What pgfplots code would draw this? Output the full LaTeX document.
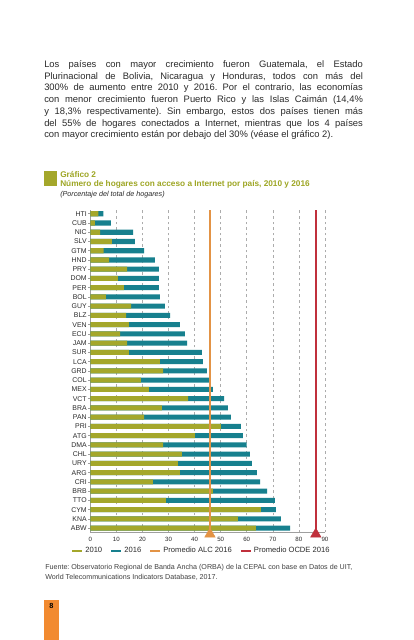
\documentclass[border=0pt]{standalone}
\usepackage{pgfplots}
\pgfplotsset{compat=1.18}
\usepackage{pgfplotstable}
\usepackage{fontspec}
\setmainfont{Liberation Sans}
\frenchspacing
\definecolor{cA}{HTML}{A4A72B}
\definecolor{cB}{HTML}{17808E}
\definecolor{cALC}{HTML}{E39345}
\definecolor{cOCDE}{HTML}{C0303C}
\definecolor{ctitle}{HTML}{9EA624}
\definecolor{cpage}{HTML}{F28A30}
\definecolor{ctext}{HTML}{2A2A2A}
\pgfplotstableread{
i  y2010 y2016
0  63.5  76.6
1  56.6  73.1
2  65.4  71.2
3  29.0  70.8
4  47.0  67.8
5  24.0  65.1
6  34.4  63.9
7  33.6  62.0
8  35.1  61.2
9  27.9  60.0
10 40.1  58.5
11 50.1  57.8
12 20.6  53.9
13 27.5  52.8
14 37.5  51.3
15 22.5  47.0
16 19.4  45.5
17 27.9  44.7
18 26.7  43.2
19 14.8  42.8
20 14.1  37.1
21 11.4  36.3
22 14.8  34.4
23 13.7  30.6
24 15.7  28.6
25 6.0   26.7
26 12.9  26.3
27 10.6  26.3
28 14.1  26.3
29 7.2   24.8
30 5.1   20.6
31 8.3   17.1
32 3.8   16.4
33 1.8   7.9
34 3.1   5.0
}\datatable
\begin{document}
\begin{tikzpicture}[x=0.75pt,y=0.75pt]
\fill[white] (0,0) rectangle (414,640);
\path[use as bounding box] (0,0) rectangle (414,640);
% paragraph
\begin{scope}[every node/.style={anchor=base west, inner sep=0pt, text=ctext, font=\fontsize{7.05}{8}\selectfont}]
\node at (44,{640-67.5}) {\makebox[239pt][s]{Los países con mayor crecimiento fueron Guatemala, el Estado}};
\node at (44,{640-79.2}) {\makebox[239pt][s]{Plurinacional de Bolivia, Nicaragua y Honduras, todos con más del}};
\node at (44,{640-91.0}) {\makebox[239pt][s]{300\% de aumento entre 2010 y 2016. Por el contrario, las economías}};
\node at (44,{640-102.7}) {\makebox[239pt][s]{con menor crecimiento fueron Puerto Rico y las Islas Caimán (14,4\%}};
\node at (44,{640-114.4}) {\makebox[239pt][s]{y 18,3\% respectivamente). Sin embargo, estos dos países tienen más}};
\node at (44,{640-126.1}) {\makebox[239pt][s]{del 55\% de hogares conectados a Internet, mientras que los 4 países}};
\node at (44,{640-137.8}) {con mayor crecimiento están por debajo del 30\% (véase el gráfico 2).};
\end{scope}
% title block
\fill[cA] (44,{640-186}) rectangle (57,{640-171});
\node[anchor=base west, inner sep=0pt, text=ctitle, font=\fontsize{6.2}{7}\selectfont\bfseries] at (60,{640-178}) {Gráfico 2};
\node[anchor=base west, inner sep=0pt, text=ctitle, font=\fontsize{6.2}{7}\selectfont\bfseries] at (60,{640-186.5}) {Número de hogares con acceso a Internet por país, 2010 y 2016};
\node[anchor=base west, inner sep=0pt, text=ctext, font=\fontsize{5.4}{6}\selectfont\itshape] at (60,{640-196.5}) {(Porcentaje del total de hogares)};
% source
\node[anchor=base west, inner sep=0pt, text=ctext!90, font=\fontsize{5.35}{6}\selectfont] at (45,{640-570}) {Fuente: Observatorio Regional de Banda Ancha (ORBA) de la CEPAL con base en Datos de UIT,};
\node[anchor=base west, inner sep=0pt, text=ctext!90, font=\fontsize{5.35}{6}\selectfont] at (45,{640-579.5}) {World Telecommunications Indicators Database, 2017.};
% page number
\fill[cpage] (44,0) rectangle (59,40);
\node[inner sep=0pt, font=\fontsize{5.5}{6}\selectfont\bfseries] at (51.5,{640-606}) {8};
\begin{axis}[
  at={(67.725pt,80.775pt)}, anchor=south west,
  scale only axis, width=176.0pt, height=241.7pt,
  xmin=0, xmax=90, ymin=-0.45, ymax=34.4,
  clip=false,
  axis x line*=bottom, axis y line*=left,
  axis line style={-, draw=gray!75, line width=0.5pt},
  xtick={0,10,...,90},
  x tick style={draw=none},
  x tick label style={font=\fontsize{4.6}{5}\selectfont, text=ctext, yshift=1pt},
  /pgf/number format/assume math mode=true,
  xmajorgrids,
  major x grid style={gray!65, line width=0.45pt, dash pattern=on 2pt off 2.2pt},
  ytick={0,...,34},
  yticklabels={ABW,KNA,CYM,TTO,BRB,CRI,ARG,URY,CHL,DMA,ATG,PRI,PAN,BRA,VCT,MEX,COL,GRD,LCA,SUR,JAM,ECU,VEN,BLZ,GUY,BOL,PER,DOM,PRY,HND,GTM,SLV,NIC,CUB,HTI},
  y tick label style={font=\fontsize{5.2}{6}\selectfont, text=ctext, inner sep=1pt},
  y tick style={draw=gray!75, line width=0.4pt},
  major tick length=1.5pt, tick align=outside,
  legend columns=4,
  legend style={at={(0.4717,-0.058)}, anchor=center, draw=none, fill=none,
    font=\fontsize{5.7}{6}\selectfont, text=ctext, inner sep=0pt,
    nodes={inner sep=1.2pt},
    /tikz/every even column/.append style={column sep=4.5pt}},
  legend image code/.code={\draw[line width=2.2pt] (0pt,0pt) -- (7.5pt,0pt);},
]
\addplot[xbar, bar width=3.8pt, bar shift=0pt, fill=cB, draw=none, forget plot] table[x=y2016, y=i] {\datatable};
\addplot[xbar, bar width=3.8pt, bar shift=0pt, fill=cA, draw=none, forget plot] table[x=y2010, y=i] {\datatable};
\addplot[cALC, line width=1.5pt, forget plot] coordinates {(45.9,-0.45) (45.9,34.4)};
\addplot[cOCDE, line width=1.5pt, forget plot] coordinates {(86.5,-0.45) (86.5,34.4)};
\addplot[only marks, mark=triangle*, mark size=4.5pt, color=cALC, forget plot] coordinates {(45.9,-0.65)};
\addplot[only marks, mark=triangle*, mark size=4.5pt, color=cOCDE, forget plot] coordinates {(86.5,-0.65)};
\addlegendimage{cA}
\addlegendentry{2010}
\addlegendimage{cB}
\addlegendentry{2016}
\addlegendimage{cALC}
\addlegendentry{Promedio ALC 2016}
\addlegendimage{cOCDE}
\addlegendentry{Promedio OCDE 2016}
\end{axis}
\end{tikzpicture}
\end{document}
